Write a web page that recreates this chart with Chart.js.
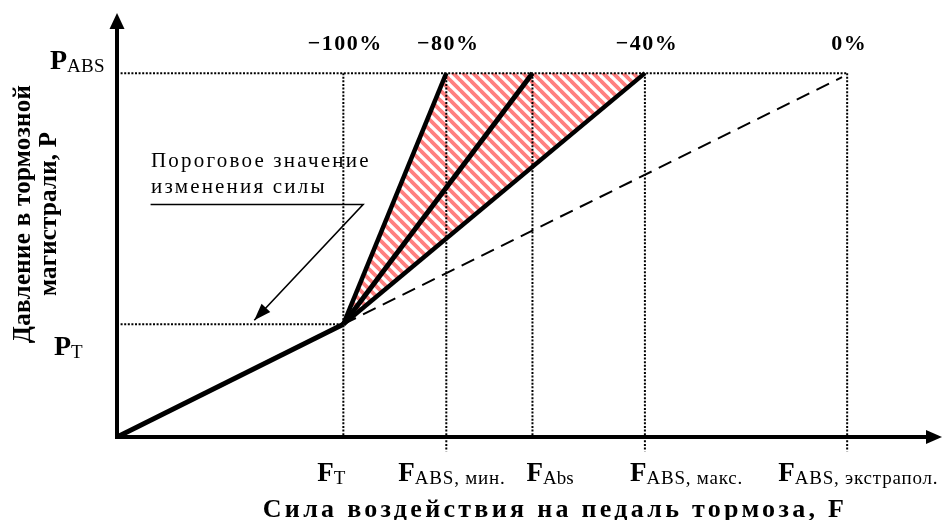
<!DOCTYPE html>
<html>
<head>
<meta charset="utf-8">
<script src="https://cdn.jsdelivr.net/npm/chart.js@4.4.1/dist/chart.umd.min.js"></script>
<style>
  html, body { margin: 0; padding: 0; background: #fff; }
  canvas { display: block; }
</style>
</head>
<body>
<canvas id="chart" width="947" height="520"></canvas>
<script>
// marks on the force axis, % of F_ABS,экстрапол.
const forceNames = ["T", "ABS, мин.", "Abs", "ABS, макс.", "ABS, экстрапол."];
const forceValues = [31, 45.1, 56.9, 72.3, 100];
// dotted guide goes a little below the axis for these marks
const forceBelowAxis = [false, true, false, true, true];

// marks on the pressure axis, % of P_ABS
const pressureNames = ["ABS", "T"];
const pressureValues = [100, 31];

// deviation of the pressure gradient, written above the marks
const gradientLabels = ["−100%", "−80%", "−40%", "0%"];
const gradientAt = [31, 45.1, 72.3, 100];

// characteristic: threshold point and the fan of gradients after it
const basePath = [[0, 0], [31, 31]];
const fanEndsX = [45.1, 56.9, 72.3];
const fanTopY = 100;
const extrapolEnd = [99.3, 98.9];

// note with a leader arrow
const noteLines = ["Пороговое значение", "изменения силы"];
const notePath = [[4.6, 63.9], [33.7, 63.9], [18.8, 32.1]];

const xTitle = "Сила воздействия на педаль тормоза, F";
const yTitle = ["Давление в тормозной", "магистрали, P"];

const X_MAX = 113.4;
const Y_MAX = 116.8;

const pt = (p) => ({ x: p[0], y: p[1] });

function makeHatch() {
  const s = 10;
  const c = document.createElement("canvas");
  c.width = s;
  c.height = s;
  const g = c.getContext("2d");
  g.fillStyle = "#fff";
  g.fillRect(0, 0, s, s);
  g.strokeStyle = "#ff8080";
  g.lineWidth = 3.8;
  g.beginPath();
  for (const k of [-s, 0, s]) {
    g.moveTo(-1, k - 1);
    g.lineTo(s + 1, s + k + 1);
  }
  g.stroke();
  return g.createPattern(c, "repeat");
}

const ctx = document.getElementById("chart").getContext("2d");

const solid = (data, width) => ({
  data, borderColor: "#000", borderWidth: width, pointRadius: 0, fill: false
});
const dotted = (data) => ({
  data, borderColor: "#000", borderWidth: 2, borderDash: [2, 1.6], pointRadius: 0, fill: false, clip: false
});

const datasets = [];
datasets.push(solid(basePath.map(pt), 5));
fanEndsX.forEach((x, i) => {
  datasets.push(solid([pt(basePath[1]), { x, y: fanTopY }], i === 1 ? 5 : 4.5));
});
datasets.push({
  data: [pt(basePath[1]), pt(extrapolEnd)],
  borderColor: "#000", borderWidth: 2, borderDash: [14, 8], pointRadius: 0, fill: false
});
// guides
datasets.push(dotted([{ x: 0, y: pressureValues[0] }, { x: forceValues[4], y: pressureValues[0] }]));
datasets.push(dotted([{ x: 0, y: pressureValues[1] }, { x: forceValues[0], y: pressureValues[1] }]));
forceValues.forEach((v, i) => {
  datasets.push(dotted([{ x: v, y: pressureValues[0] }, { x: v, y: forceBelowAxis[i] ? -4 : 0 }]));
});
const noteIndex = datasets.length;
datasets.push(solid(notePath.map(pt), 1.6));
// hatched band between the -100% and -40% lines
datasets.push({
  data: [pt(basePath[1]), { x: fanEndsX[0], y: fanTopY }, { x: fanEndsX[2], y: fanTopY }, pt(basePath[1])],
  borderWidth: 0, borderColor: "rgba(0,0,0,0)", backgroundColor: makeHatch(),
  fill: "shape", pointRadius: 0, order: 10
});

function spaced(c, text, x, y, spacing) {
  c.letterSpacing = spacing + "px";
  c.fillText(text, x, y);
  c.letterSpacing = "0px";
}

const axesPlugin = {
  id: "arrowAxes",
  afterDatasetsDraw(chart) {
    const c = chart.ctx;
    const { x, y } = chart.scales;
    const x0 = x.getPixelForValue(0);
    const y0 = y.getPixelForValue(0);
    const right = chart.chartArea.right - 3;
    const top = chart.chartArea.top + 1;
    c.save();
    c.fillStyle = "#000";
    c.strokeStyle = "#000";
    c.lineWidth = 4;
    c.beginPath();
    c.moveTo(x0, y0 + 2);
    c.lineTo(x0, top + 14);
    c.moveTo(x0 - 2, y0);
    c.lineTo(right - 14, y0);
    c.stroke();
    c.beginPath();
    c.moveTo(x0, top);
    c.lineTo(x0 - 7.5, top + 16);
    c.lineTo(x0 + 7.5, top + 16);
    c.closePath();
    c.fill();
    c.beginPath();
    c.moveTo(right, y0);
    c.lineTo(right - 16, y0 - 7);
    c.lineTo(right - 16, y0 + 7);
    c.closePath();
    c.fill();

    // arrow head of the note leader
    const pts = chart.getDatasetMeta(noteIndex).data;
    const a = pts[pts.length - 2], b = pts[pts.length - 1];
    const ang = Math.atan2(b.y - a.y, b.x - a.x);
    c.translate(b.x, b.y);
    c.rotate(ang);
    c.beginPath();
    c.moveTo(0, 0);
    c.lineTo(-17, -6);
    c.lineTo(-17, 6);
    c.closePath();
    c.fill();
    c.restore();
  }
};

const textPlugin = {
  id: "labels",
  afterDraw(chart) {
    const c = chart.ctx;
    const { x, y } = chart.scales;
    const serif = '"Liberation Serif", "Times New Roman", serif';
    c.save();
    c.fillStyle = "#000";
    c.textBaseline = "alphabetic";

    // gradient deviation labels
    c.font = "bold 22px " + serif;
    c.textAlign = "center";
    gradientLabels.forEach((t, i) => spaced(c, t, x.getPixelForValue(gradientAt[i]) + 2, 50, 1.5));

    // force marks: F + subscript
    const fShift = [-26, -48, -6, -15, -69];
    c.textAlign = "left";
    forceNames.forEach((name, i) => {
      const left = x.getPixelForValue(forceValues[i]) + fShift[i];
      c.font = "bold 27px " + serif;
      c.fillText("F", left, 481);
      const w = c.measureText("F").width;
      c.font = "19px " + serif;
      spaced(c, name, left + w, 484, name.length > 3 ? 0.8 : 0);
    });

    // pressure marks: P + subscript
    const pLeft = [50, 54];
    pressureNames.forEach((name, i) => {
      const base = y.getPixelForValue(pressureValues[i]);
      const yb = i === 0 ? base - 4 : base + 31;
      c.font = "bold 28px " + serif;
      c.fillText("P", pLeft[i], yb);
      const w = c.measureText("P").width;
      c.font = "19px " + serif;
      spaced(c, name, pLeft[i] + w, yb + 3, 0.3);
    });

    // note
    c.font = "21px " + serif;
    spaced(c, noteLines[0], 151, 167, 2.2);
    spaced(c, noteLines[1], 151, 193, 2.2);

    // axis titles
    c.font = "bold 26px " + serif;
    c.textAlign = "center";
    spaced(c, xTitle, 555, 517, 3.3);
    c.font = "bold 25px " + serif;
    c.translate(0, 214);
    c.rotate(-Math.PI / 2);
    spaced(c, yTitle[0], 0, 30, 0.3);
    spaced(c, yTitle[1], 0, 56, 0.2);
    c.restore();
  }
};

new Chart(ctx, {
  type: "line",
  data: { datasets },
  options: {
    responsive: false,
    animation: false,
    events: [],
    layout: { padding: { left: 117, right: 2, top: 12, bottom: 83 } },
    plugins: { legend: { display: false }, tooltip: { enabled: false } },
    elements: { line: { tension: 0 }, point: { radius: 0 } },
    scales: {
      x: { type: "linear", min: 0, max: X_MAX, display: false },
      y: { type: "linear", min: 0, max: Y_MAX, display: false }
    }
  },
  plugins: [axesPlugin, textPlugin]
});
</script>
</body>
</html>
